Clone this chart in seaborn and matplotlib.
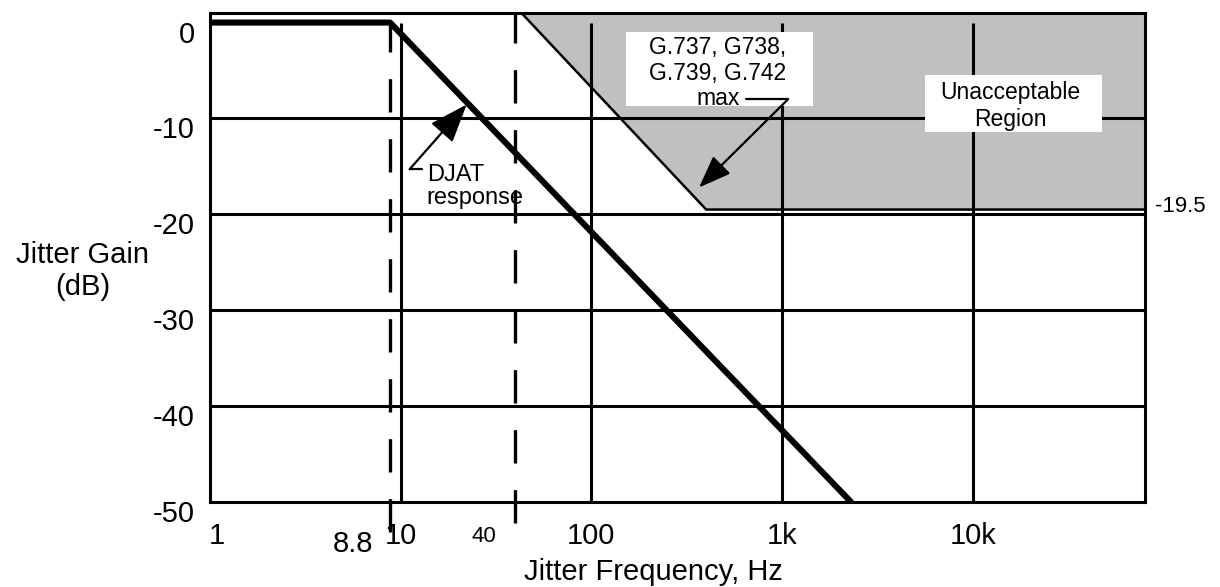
import matplotlib
matplotlib.use("Agg")
import matplotlib.pyplot as plt
import seaborn as sns
from matplotlib.patches import Rectangle
from matplotlib.ticker import NullFormatter, NullLocator
from matplotlib.transforms import ScaledTranslation, blended_transform_factory

# DJAT response
response_freq = [1, 8.8, 2300]
response_gain = [0, 0, -50]

# G.737 / G.738 / G.739 / G.742 max jitter transfer mask
mask_freq = [43, 400, 80000]
mask_gain = [1, -19.5, -19.5]

x_ticks = [1, 10, 100, 1000, 10000]
x_tick_labels = ["1", "10", "100", "1k", "10k"]
y_ticks = [0, -10, -20, -30, -40, -50]
grid_freqs = [10, 100, 1000, 10000]
grid_gains = [-10, -20, -30, -40]
corner_freq = 8.8
mask_start_freq = 40

sns.set_theme(style="white")
plt.rcParams["font.family"] = ["Liberation Sans", "DejaVu Sans"]
plt.rcParams["axes.unicode_minus"] = False
plt.rcParams["text.color"] = "black"

fig = plt.figure(figsize=(12.2, 5.87), dpi=100)
ax = fig.add_axes([0.1721, 0.1448, 0.7664, 0.8331])
ax.set_xscale("log")
ax.set_xlim(1, 80000)
ax.set_ylim(-50, 1)

# unacceptable region
ax.fill_between(mask_freq, mask_gain, 1, color="#c0c0c0", lw=0, zorder=1)
sns.lineplot(x=mask_freq, y=mask_gain, color="black", lw=1.8, sort=False,
             estimator=None, ax=ax, zorder=3)

# grid
ax.vlines(grid_freqs, -50, 0, color="black", lw=2.2, zorder=2)
ax.hlines(grid_gains, 1, 80000, color="black", lw=2.2, zorder=2)

# dashed markers at 8.8 Hz and 40 Hz
ax.vlines([corner_freq], -53.1, 0, color="black", lw=2.4,
          linestyles=(0, (10, 8)), clip_on=False, zorder=3)
ax.vlines([mask_start_freq], -52.2, 1, color="black", lw=2.4,
          linestyles=(0, (10, 8)), clip_on=False, zorder=3)

# DJAT response
sns.lineplot(x=response_freq, y=response_gain, color="black", lw=4.4, sort=False,
             estimator=None, ax=ax, zorder=6)

# axes
ax.set_xticks(x_ticks, x_tick_labels)
ax.xaxis.set_minor_locator(NullLocator())
ax.xaxis.set_minor_formatter(NullFormatter())
ax.set_yticks(y_ticks, [str(v) for v in y_ticks])
ax.tick_params(which="both", length=0)
ax.tick_params(axis="x", pad=14.5, labelsize=21, colors="black")
ax.tick_params(axis="y", pad=11, labelsize=21, colors="black")
offset = ScaledTranslation(0, -0.09, fig.dpi_scale_trans)
for lbl in ax.get_yticklabels():
    lbl.set_transform(lbl.get_transform() + offset)
first = ax.get_xticklabels()[0]
first.set_transform(first.get_transform() + ScaledTranslation(0.07, 0, fig.dpi_scale_trans))
for s in ax.spines.values():
    s.set_color("black")
    s.set_linewidth(2.2)

ax.set_xlabel("Jitter Frequency, Hz", fontsize=21, color="black")
ax.xaxis.label.set_va("center")
ax.xaxis.set_label_coords(0.474, -0.143)
ax.set_ylabel("Jitter Gain\n(dB)", rotation=0, fontsize=21, color="black",
              ha="center", va="center", linespacing=1.18)
ax.yaxis.set_label_coords(-0.136, 0.472)

# extra tick labels
ax.annotate("8.8", xy=(corner_freq, 0), xycoords=("data", "axes fraction"),
            xytext=(-12, -30.5), textcoords="offset points", ha="right", va="center",
            fontsize=21)
ax.annotate("40", xy=(mask_start_freq, 0), xycoords=("data", "axes fraction"),
            xytext=(-14, -24.5), textcoords="offset points", ha="right", va="center",
            fontsize=16)

# annotations
ax.plot([11.14, 13.0], [-15.3, -15.3], color="black", lw=1.6, zorder=5)
ax.annotate("", xy=(22.2, -8.54), xytext=(11.14, -15.3),
            arrowprops=dict(arrowstyle="-|>,head_length=1.2,head_width=0.45",
                            color="black", lw=1.6, shrinkA=0, shrinkB=0,
                            mutation_scale=20), zorder=7)
ax.text(13.7, -17.1, "DJAT\nresponse", ha="left", va="center", fontsize=17,
        linespacing=1.05, zorder=7)

ax.add_patch(Rectangle((0.445, 0.810), 0.200, 0.151, transform=ax.transAxes,
                       facecolor="white", edgecolor="none", zorder=4))
ax.text(0.543, 0.877, "G.737, G738,\nG.739, G.742\nmax", transform=ax.transAxes,
        ha="center", va="center", multialignment="center", fontsize=16.5,
        linespacing=1.12, zorder=5)
ax.plot([648, 1075], [-8.0, -8.0], color="black", lw=1.6, zorder=5)
ax.annotate("", xy=(367, -17.2), xytext=(1075, -8.0),
            arrowprops=dict(arrowstyle="-|>,head_length=1.0,head_width=0.38",
                            color="black", lw=1.6, shrinkA=0, shrinkB=0,
                            mutation_scale=20), zorder=5)

ax.add_patch(Rectangle((0.765, 0.757), 0.189, 0.116, transform=ax.transAxes,
                       facecolor="white", edgecolor="none", zorder=4))
ax.text(0.856, 0.810, "Unacceptable\nRegion", transform=ax.transAxes,
        ha="center", va="center", multialignment="center", fontsize=16.5,
        linespacing=1.2, zorder=5)

trans = blended_transform_factory(ax.transAxes, ax.transData)
ax.text(1.011, -19.2, "-19.5", transform=trans, ha="left", va="center", fontsize=16)

fig.savefig("out.png", dpi=100)
